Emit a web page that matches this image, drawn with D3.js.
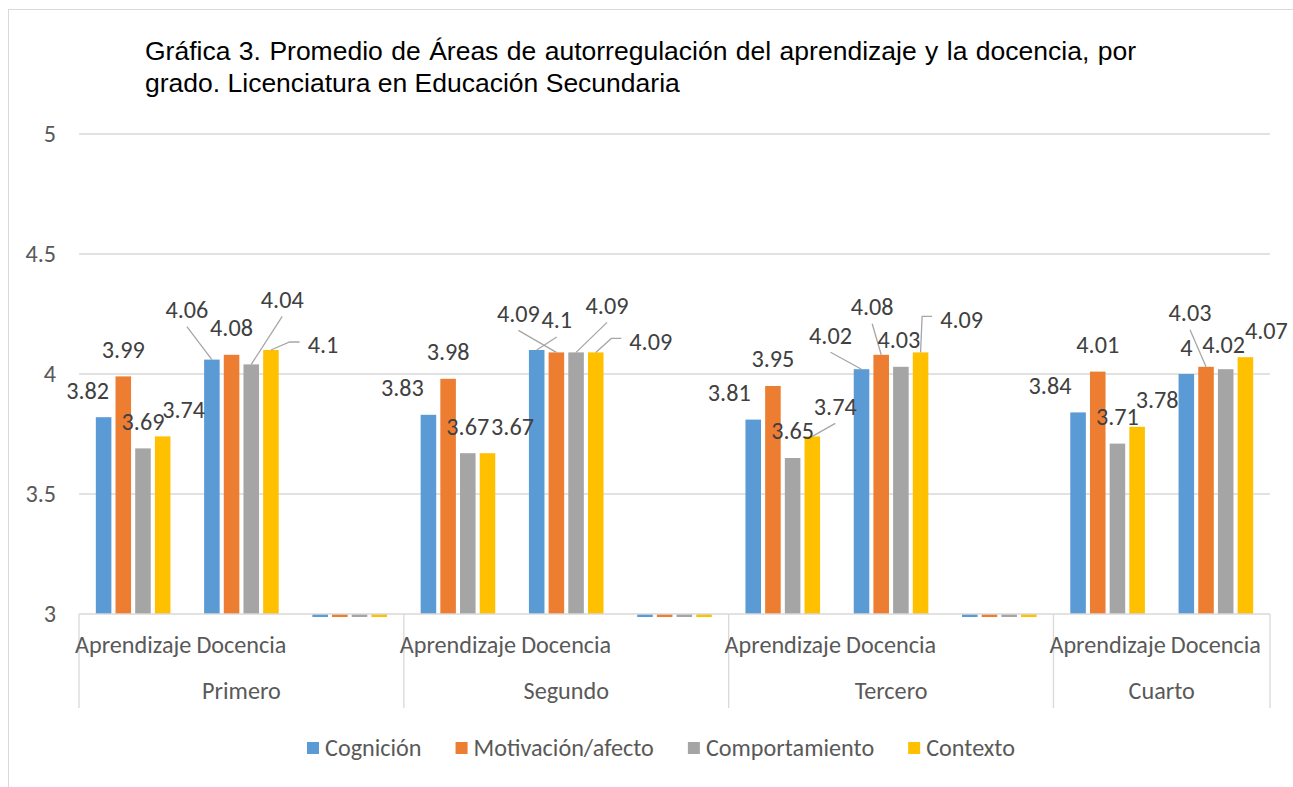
<!DOCTYPE html>
<html>
<head>
<meta charset="utf-8">
<script src="https://cdnjs.cloudflare.com/ajax/libs/d3/7.8.5/d3.min.js"></script>
<style>
  html, body { margin: 0; padding: 0; background: #fff; }
  svg { display: block; }
</style>
</head>
<body>
<svg id="chart" width="1293" height="787"></svg>
<script>
// ---------------- DATA ----------------
const titleLines = [
  "Gráfica 3. Promedio de Áreas de autorregulación del aprendizaje y la docencia, por",
  "grado. Licenciatura en Educación Secundaria"
];
const grades = ["Primero", "Segundo", "Tercero", "Cuarto"];
const categories = [
  ["Primero", "Aprendizaje"], ["Primero", "Docencia"], ["Primero", ""],
  ["Segundo", "Aprendizaje"], ["Segundo", "Docencia"], ["Segundo", ""],
  ["Tercero", "Aprendizaje"], ["Tercero", "Docencia"], ["Tercero", ""],
  ["Cuarto", "Aprendizaje"], ["Cuarto", "Docencia"]
];
const seriesNames = ["Cognición", "Motivación/afecto", "Comportamiento", "Contexto"];
const cognicion      = [3.82, 4.06, 0, 3.83, 4.10, 0, 3.81, 4.02, 0, 3.84, 4.00];
const motivacion     = [3.99, 4.08, 0, 3.98, 4.09, 0, 3.95, 4.08, 0, 4.01, 4.03];
const comportamiento = [3.69, 4.04, 0, 3.67, 4.09, 0, 3.65, 4.03, 0, 3.71, 4.02];
const contexto       = [3.74, 4.10, 0, 3.67, 4.09, 0, 3.74, 4.09, 0, 3.78, 4.07];
const yTicks = [3, 3.5, 4, 4.5, 5];

// ---------------- LAYOUT (label nudges: [dx, dy, leaderType]) ----------------
const nudgeCognicion      = [[-16,0,0],[-25,-23,1],null,[-26,0,0],[20,-3,1],null,[-24,0,0],[-31,-7,1],null,[-28,0,0],[0,1,0]];
const nudgeMotivacion     = [[0,0,0],[0,0,0],null,[0,0,0],[-38,-12,1],null,[0,0,0],[-9,-21,1],null,[0,0,0],[-16,-27,1]];
const nudgeComportamiento = [[0,0,0],[31,-38,1],null,[0,0,0],[31,-20,1],null,[0,0,0],[-2,0,0],null,[0,0,0],[-2,2,0]];
const nudgeContexto       = [[21,0,0],[52,22,2],null,[25,0,0],[55,16,2],null,[23,-3,1],[41,-6,2],null,[20,0,0],[21,0,0]];

const colors = ["#5B9BD5", "#ED7D31", "#A5A5A5", "#FFC000"];
const seriesValues = [cognicion, motivacion, comportamiento, contexto];
const seriesNudges = [nudgeCognicion, nudgeMotivacion, nudgeComportamiento, nudgeContexto];

// ---------------- SETUP ----------------
const svg = d3.select("#chart");
const plot = { left: 79, right: 1270, top: 134, bottom: 614 };
const calFamily = "Carlito, Calibri, Lato, 'Noto Sans', sans-serif";

// calibrate Calibri-like font size so "Aprendizaje Docencia" ≈ 212px at nominal 24px
const probe = svg.append("text").attr("font-family", calFamily).attr("font-size", 24).text("Aprendizaje Docencia");
const probeW = probe.node().getComputedTextLength();
probe.remove();
const calSize = 24 * 212 / probeW;

// chart border
svg.append("rect").attr("x", 8.5).attr("y", 9.5).attr("width", 1400).attr("height", 900)
  .attr("fill", "none").attr("stroke", "#d9d9d9").attr("stroke-width", 1);

// title (first line justified to the text block width)
const titleRight = 1136;
svg.append("g").selectAll("text").data(titleLines).join("text")
  .attr("x", 145).attr("y", (d, i) => 60 + i * 32)
  .attr("font-family", "'Liberation Sans', Arial, Helvetica, sans-serif")
  .attr("font-size", 26.5).attr("fill", "#000")
  .text(d => d)
  .each(function (d, i) {
    if (i === 0) {
      const w = this.getComputedTextLength();
      const spaces = d.split(" ").length - 1;
      const extra = Math.max(0, (titleRight - 145 - w) / spaces);
      d3.select(this).attr("word-spacing", extra);
    }
  });

// scales
const x0 = d3.scaleBand().domain(d3.range(categories.length)).range([plot.left, plot.right]).padding(0);
const x1 = d3.scaleBand().domain(d3.range(seriesNames.length)).range([0, x0.bandwidth()])
  .paddingInner(0.21).paddingOuter(0.855);
const y = d3.scaleLinear().domain([3, 5]).range([plot.bottom, plot.top]);

// gridlines
svg.append("g").selectAll("line").data(yTicks.filter(t => t > 3)).join("line")
  .attr("x1", plot.left).attr("x2", plot.right)
  .attr("y1", d => y(d)).attr("y2", d => y(d))
  .attr("stroke", "#d9d9d9").attr("stroke-width", 1.3);

// y axis
const yAxis = d3.axisLeft(y).tickValues(yTicks).tickSize(0).tickPadding(23).tickFormat(d => String(d));
const gy = svg.append("g").attr("transform", `translate(${plot.left},0)`).call(yAxis);
gy.select(".domain").remove();
gy.selectAll("text").attr("font-family", calFamily).attr("font-size", calSize).attr("fill", "#595959");

// clip for bars (slightly below the axis like Excel)
svg.append("clipPath").attr("id", "plotclip").append("rect")
  .attr("x", plot.left).attr("y", 0).attr("width", plot.right - plot.left).attr("height", y(3) + 3);

// bars
const barData = [];
seriesValues.forEach((vals, s) => vals.forEach((v, i) => barData.push({ s, i, v })));
svg.append("g").attr("clip-path", "url(#plotclip)").selectAll("rect").data(barData).join("rect")
  .attr("x", d => x0(d.i) + x1(d.s))
  .attr("width", x1.bandwidth())
  .attr("y", d => Math.min(y(d.v), y(3)))
  .attr("height", d => Math.abs(y(3) - y(d.v)))
  .attr("fill", d => colors[d.s]);

// x axis line
svg.append("line").attr("x1", plot.left).attr("x2", plot.right)
  .attr("y1", y(3)).attr("y2", y(3)).attr("stroke", "#d9d9d9").attr("stroke-width", 1.3);

// group separators
const groupBounds = grades.map(g => {
  const idx = categories.map((c, i) => c[0] === g ? i : -1).filter(i => i >= 0);
  return { g, x0: x0(idx[0]), x1: x0(idx[idx.length - 1]) + x0.bandwidth() };
});
const sepXs = [groupBounds[0].x0].concat(groupBounds.map(b => b.x1));
svg.append("g").selectAll("line").data(sepXs).join("line")
  .attr("x1", d => d).attr("x2", d => d)
  .attr("y1", y(3)).attr("y2", y(3) + 94)
  .attr("stroke", "#d9d9d9").attr("stroke-width", 1.3);

// inner category labels
svg.append("g").selectAll("text").data(categories.filter(c => c[1] !== "")).join("text")
  .attr("x", d => x0(categories.indexOf(d)) + x0.bandwidth() / 2)
  .attr("y", 653)
  .attr("text-anchor", "middle")
  .attr("font-family", calFamily).attr("font-size", calSize).attr("fill", "#595959")
  .text(d => d[1]);

// outer category labels
svg.append("g").selectAll("text").data(groupBounds).join("text")
  .attr("x", d => (d.x0 + d.x1) / 2)
  .attr("y", 699)
  .attr("text-anchor", "middle")
  .attr("font-family", calFamily).attr("font-size", calSize).attr("fill", "#595959")
  .text(d => d.g);

// data labels + leader lines
const labelData = barData.filter(d => d.v > 0).map(d => {
  const n = seriesNudges[d.s][d.i] || [0, 0, 0];
  const bx = x0(d.i) + x1(d.s) + x1.bandwidth() / 2;
  const by = y(d.v);
  return { ...d, bx, by, lx: bx + n[0], ly: by - 27 + n[1], leader: n[2] };
});
const gLeaders = svg.append("g");
const gLabels = svg.append("g");
gLabels.selectAll("text").data(labelData).join("text")
  .attr("x", d => d.lx).attr("y", d => d.ly).attr("dy", "0.35em")
  .attr("text-anchor", "middle")
  .attr("font-family", calFamily).attr("font-size", calSize).attr("fill", "#404040")
  .text(d => String(d.v))
  .each(function (d) { d.w = this.getComputedTextLength(); });

gLeaders.selectAll("path").data(labelData.filter(d => d.leader > 0)).join("path")
  .attr("d", d => {
    if (d.leader === 1) {
      return d3.line()([[d.lx, d.ly + 17], [d.bx, d.by]]);
    }
    const left = d.lx - d.w / 2;
    return d3.line()([[left - 8, d.ly - 3], [left - 18, d.ly - 3], [d.bx, d.by]]);
  })
  .attr("fill", "none").attr("stroke", "#a6a6a6").attr("stroke-width", 1.3);

// legend
const legend = svg.append("g");
let lx = 0;
const items = seriesNames.map((name, i) => {
  const t = legend.append("text").attr("font-family", calFamily).attr("font-size", calSize)
    .attr("fill", "#595959").text(name);
  const w = t.node().getComputedTextLength();
  const item = { name, i, x: lx, w, t };
  lx += 18 + w + 34;
  return item;
});
const legendW = lx - 34;
const legendStart = 661 - legendW / 2;
items.forEach(it => {
  legend.append("rect").attr("x", legendStart + it.x).attr("y", 742).attr("width", 12).attr("height", 12)
    .attr("fill", colors[it.i]);
  it.t.attr("x", legendStart + it.x + 18).attr("y", 756);
});
</script>
</body>
</html>
